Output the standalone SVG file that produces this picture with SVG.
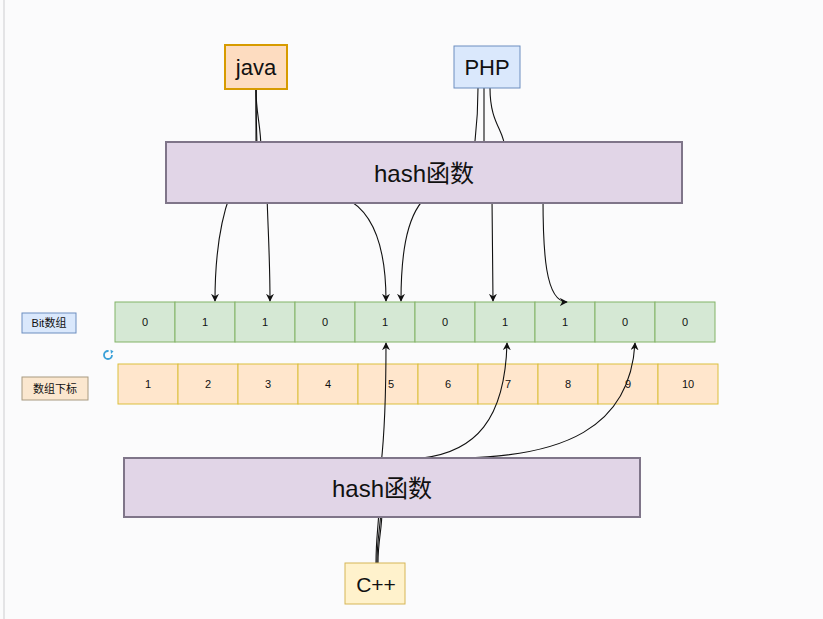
<svg xmlns="http://www.w3.org/2000/svg" width="823" height="619" viewBox="0 0 823 619">
<defs>
<style>
.lbl{font-family:"Liberation Sans","Noto Sans CJK SC",Arial,sans-serif;fill:#111;text-anchor:middle;dominant-baseline:central}
.bit{fill:#d5e8d4;stroke:#82b366;stroke-width:1}
.idx{fill:#ffe6cc;stroke:#dcbf3c;stroke-width:1}
.hash{fill:#e1d5e7;stroke:#7f7589;stroke-width:2}
.edge{fill:none;stroke:#111;stroke-width:1.1}
</style>
<marker id="arr" viewBox="0 0 10 10" refX="9" refY="5" markerWidth="8" markerHeight="8" markerUnits="userSpaceOnUse" orient="auto">
<path d="M0,0 L10,5 L0,10 L3,5 Z" fill="#111"/>
</marker>
</defs>
<rect x="0" y="0" width="823" height="619" fill="#fbfbfc"/>
<line x1="4" y1="0" x2="4" y2="619" stroke="#e4e4e6" stroke-width="2"/>

<g id="label-bit">
<rect x="22" y="313" width="54" height="20" fill="#dae8fc" stroke="#6c8ebf"/>
<text class="lbl" x="49" y="323" font-size="11">Bit数组</text>
</g>
<g id="label-idx">
<rect x="22" y="377" width="66" height="23" fill="#fbe7cf" stroke="#a89a80"/>
<text class="lbl" x="55" y="388.5" font-size="11">数组下标</text>
</g>
<g id="refresh-icon">
<circle cx="108" cy="355" r="4" fill="none" stroke="#3aa0d8" stroke-width="1.8" stroke-dasharray="19 6.1"/>
<path d="M110.5,349.8 L113.5,351.2 L111,354 Z" fill="#3aa0d8"/>
</g>

<g id="bit-array">
<rect class="bit" x="115" y="302" width="60" height="40"/><text class="lbl" x="145" y="322" font-size="11">0</text>
<rect class="bit" x="175" y="302" width="60" height="40"/><text class="lbl" x="205" y="322" font-size="11">1</text>
<rect class="bit" x="235" y="302" width="60" height="40"/><text class="lbl" x="265" y="322" font-size="11">1</text>
<rect class="bit" x="295" y="302" width="60" height="40"/><text class="lbl" x="325" y="322" font-size="11">0</text>
<rect class="bit" x="355" y="302" width="60" height="40"/><text class="lbl" x="385" y="322" font-size="11">1</text>
<rect class="bit" x="415" y="302" width="60" height="40"/><text class="lbl" x="445" y="322" font-size="11">0</text>
<rect class="bit" x="475" y="302" width="60" height="40"/><text class="lbl" x="505" y="322" font-size="11">1</text>
<rect class="bit" x="535" y="302" width="60" height="40"/><text class="lbl" x="565" y="322" font-size="11">1</text>
<rect class="bit" x="595" y="302" width="60" height="40"/><text class="lbl" x="625" y="322" font-size="11">0</text>
<rect class="bit" x="655" y="302" width="60" height="40"/><text class="lbl" x="685" y="322" font-size="11">0</text>
</g>

<g id="index-array">
<rect class="idx" x="118" y="364" width="60" height="40"/><text class="lbl" x="148" y="384" font-size="11">1</text>
<rect class="idx" x="178" y="364" width="60" height="40"/><text class="lbl" x="208" y="384" font-size="11">2</text>
<rect class="idx" x="238" y="364" width="60" height="40"/><text class="lbl" x="268" y="384" font-size="11">3</text>
<rect class="idx" x="298" y="364" width="60" height="40"/><text class="lbl" x="328" y="384" font-size="11">4</text>
<rect class="idx" x="358" y="364" width="60" height="40"/><text class="lbl" x="391" y="384" font-size="11">5</text>
<rect class="idx" x="418" y="364" width="60" height="40"/><text class="lbl" x="448" y="384" font-size="11">6</text>
<rect class="idx" x="478" y="364" width="60" height="40"/><text class="lbl" x="508" y="384" font-size="11">7</text>
<rect class="idx" x="538" y="364" width="60" height="40"/><text class="lbl" x="568" y="384" font-size="11">8</text>
<rect class="idx" x="598" y="364" width="60" height="40"/><text class="lbl" x="628" y="384" font-size="11">9</text>
<rect class="idx" x="658" y="364" width="60" height="40"/><text class="lbl" x="688" y="384" font-size="11">10</text>
</g>

<g id="connectors">
<path class="edge" marker-end="url(#arr)" d="M256,89 C256,125 257,135 257,150 L230,195 C219,225 215,260 215,301"/>
<path class="edge" marker-end="url(#arr)" d="M256,89 C256,115 261,125 261,150 L267,195 C268,230 270,260 270,301"/>
<path class="edge" marker-end="url(#arr)" d="M256,89 L256,150 L345,198 C375,212 386,250 386,301"/>
<path class="edge" marker-end="url(#arr)" d="M478,88 C478,120 476,130 474,150 L425,198 C405,218 401,260 401,301"/>
<path class="edge" marker-end="url(#arr)" d="M484,88 L484,150 L492,198 L493,301"/>
<path class="edge" marker-end="url(#arr)" d="M490,88 C490,125 505,130 505,150 L543,198 C543,250 545,302 567,302"/>
<path class="edge" marker-end="url(#arr)" d="M376,563 C376,540 378,530 379,510 L381,465 C385,430 386,380 386,343"/>
<path class="edge" marker-end="url(#arr)" d="M377,563 C377,540 380,530 381,510 L422,458 C475,452 505,420 507,343"/>
<path class="edge" marker-end="url(#arr)" d="M378,563 C378,540 382,530 382,510 L463,458 C560,456 630,430 635,343"/>
</g>

<g id="java">
<rect x="225" y="45" width="62" height="44" fill="#fddcc0" stroke="#d79b00" stroke-width="2"/>
<text class="lbl" x="256" y="67" font-size="22">java</text>
</g>
<g id="php">
<rect x="454" y="46" width="66" height="42" fill="#dae8fc" stroke="#6c8ebf"/>
<text class="lbl" x="487" y="67" font-size="22">PHP</text>
</g>
<g id="hash-top">
<rect class="hash" x="166" y="142" width="516" height="61"/>
<text class="lbl" x="424" y="173" font-size="24">hash函数</text>
</g>
<g id="hash-bottom">
<rect class="hash" x="124" y="458" width="516" height="59"/>
<text class="lbl" x="382" y="488" font-size="24">hash函数</text>
</g>
<g id="cpp">
<rect x="345" y="563" width="60" height="41" fill="#fff2cc" stroke="#d6b656"/>
<text class="lbl" x="376" y="584" font-size="21">C++</text>
</g>
</svg>
